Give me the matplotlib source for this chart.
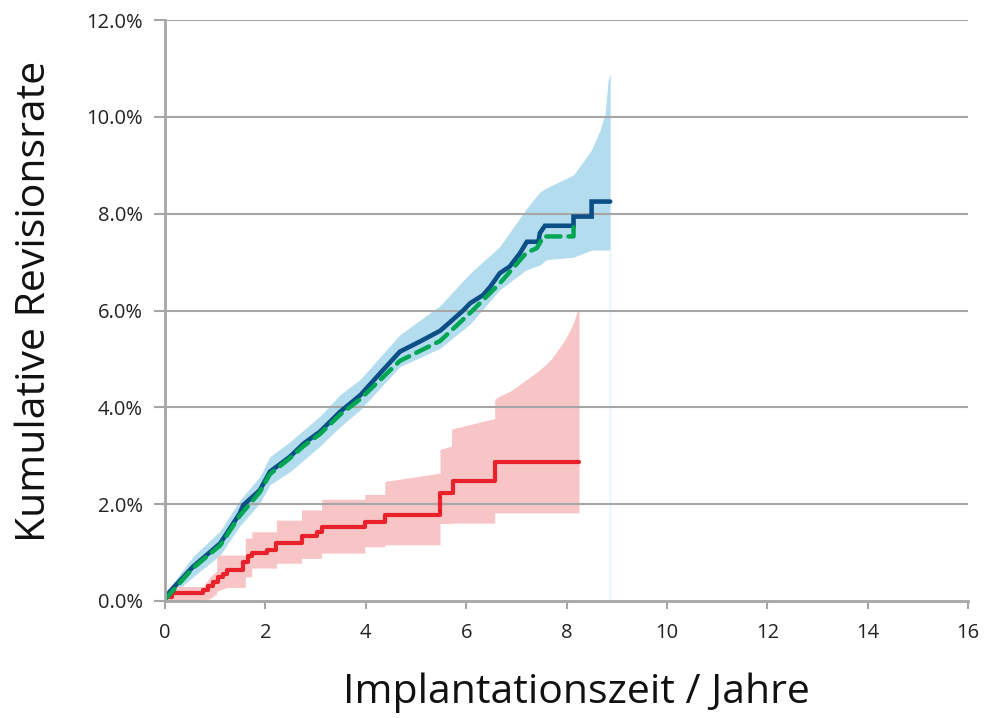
import matplotlib
matplotlib.use("Agg")
import matplotlib.pyplot as plt

plt.rcParams['font.family'] = ['Open Sans', 'DejaVu Sans']

# ---- data (years, cumulative revision rate in %) ----
blue_t = [0, 0.1, 0.56, 1.1, 1.49, 1.56, 1.89, 2.09, 2.49, 2.76, 3.09, 3.49, 3.89, 4.3, 4.68,
          5.1, 5.48, 5.68, 5.94, 6.08, 6.34, 6.48, 6.67, 6.87, 7.07, 7.21, 7.44, 7.47, 7.57,
          8.14, 8.14, 8.5, 8.5, 8.87]
blue_v = [0.05, 0.2, 0.71, 1.19, 1.81, 1.98, 2.29, 2.67, 2.98, 3.25, 3.5, 3.91, 4.25, 4.72, 5.15,
          5.37, 5.58, 5.76, 6.0, 6.15, 6.32, 6.49, 6.77, 6.91, 7.18, 7.42, 7.42, 7.6, 7.75,
          7.75, 7.94, 7.94, 8.25, 8.25]

green_t = [0, 0.56, 1.1, 1.49, 1.89, 2.09, 2.49, 2.76, 3.09, 3.49, 3.89, 4.68, 5.48, 6.08,
           6.67, 7.2, 7.41, 7.54, 8.14, 8.14, 8.27]
green_v = [0.03, 0.68, 1.15, 1.76, 2.25, 2.62, 2.95, 3.2, 3.45, 3.85, 4.17, 4.96, 5.37, 5.95,
           6.56, 7.19, 7.29, 7.53, 7.53, 7.73, 7.73]

blue_band_t = [0, 0.56, 1.1, 1.49, 1.89, 2.09, 2.49, 3.09, 3.49, 3.89, 4.68, 5.48, 6.08,
               6.67, 7.2, 7.47, 7.6, 8.14, 8.5, 8.67, 8.77, 8.83, 8.87]
blue_band_hi = [0.15, 0.92, 1.45, 2.08, 2.57, 2.98, 3.29, 3.82, 4.26, 4.58, 5.5, 6.1, 6.77,
                7.32, 8.1, 8.45, 8.53, 8.8, 9.32, 9.73, 10.07, 10.76, 10.9]
blue_band_lo = [0.0, 0.5, 0.95, 1.55, 2.02, 2.4, 2.67, 3.2, 3.6, 3.95, 4.84, 5.22, 5.72,
                6.43, 6.84, 6.94, 7.05, 7.1, 7.25, 7.25, 7.25, 7.25, 7.25]

red_t = [0, 0.14, 0.76, 0.86, 0.96, 1.06, 1.16, 1.23, 1.56, 1.66, 1.73, 2.03, 2.22, 2.72,
         3.03, 3.12, 3.98, 4.38, 5.48, 5.73, 6.57, 8.25]
red_v = [0.08, 0.16, 0.22, 0.3, 0.4, 0.5, 0.56, 0.64, 0.8, 0.92, 0.99, 1.05, 1.19, 1.34,
         1.43, 1.52, 1.64, 1.78, 2.23, 2.48, 2.87, 2.87]

red_band_t = [0, 0.14, 0.14, 0.76, 0.9, 1.03, 1.03, 1.23, 1.6, 1.6, 1.73, 1.73, 2.22, 2.22,
              2.72, 2.72, 3.12, 3.12, 3.98, 3.98, 4.38, 4.38, 5.48, 5.48, 5.71, 5.71, 6.57,
              6.57, 6.7, 6.87, 7.0, 7.2, 7.4, 7.54, 7.7, 7.87, 7.97, 8.07, 8.14, 8.2, 8.25]
red_band_hi = [0.12, 0.12, 0.3, 0.3, 0.5, 0.62, 0.95, 0.95, 0.95, 1.3, 1.3, 1.43, 1.43, 1.67,
               1.67, 1.88, 1.88, 2.1, 2.1, 2.2, 2.2, 2.47, 2.64, 3.13, 3.2, 3.55, 3.77,
               4.17, 4.25, 4.33, 4.42, 4.57, 4.72, 4.84, 5.0, 5.25, 5.4, 5.6, 5.75, 5.94, 6.05]
red_band_lo = [0.0, 0.0, 0.0, 0.0, 0.05, 0.15, 0.2, 0.28, 0.28, 0.5, 0.5, 0.68, 0.68, 0.78,
               0.78, 0.88, 0.88, 0.99, 0.99, 1.12, 1.12, 1.16, 1.16, 1.6, 1.6, 1.61, 1.61,
               1.82, 1.82, 1.82, 1.82, 1.82, 1.82, 1.82, 1.82, 1.82, 1.82, 1.82, 1.82, 1.82, 1.82]

x_ticks = [0, 2, 4, 6, 8, 10, 12, 14, 16]
y_ticks = [0, 2, 4, 6, 8, 10, 12]
x_label = "Implantationszeit / Jahre"
y_label = "Kumulative Revisionsrate"

# ---- figure ----
fig = plt.figure(figsize=(9.84, 7.18), dpi=100)
ax = fig.add_axes([165/984, 1-601/718, (968-165)/984, (601-20)/718])

grid_c = '#a6a6a6'
for yv in y_ticks[1:]:
    ax.axhline(yv, color=grid_c, lw=1.5, zorder=3)

ax.fill_between(blue_band_t, blue_band_lo, blue_band_hi, color='#b4dcef', lw=0, zorder=2)
ax.plot([blue_band_t[-1], blue_band_t[-1]], [0, blue_band_lo[-1]], color='#e3f1f9', lw=1, zorder=2)
ax.fill_between(red_band_t, red_band_lo, red_band_hi, color='#f7c5c5', lw=0, zorder=2)

ax.plot(red_t, red_v, drawstyle='steps-post', color='#e8212b', lw=3, zorder=4,
        solid_capstyle='round')
ax.plot(blue_t, blue_v, color='#0b4f86', lw=3.3, zorder=4, solid_capstyle='round',
        solid_joinstyle='miter')
ax.plot(green_t, green_v, color='#00a651', lw=3.2, ls=(0, (3.2, 1.8)), zorder=5,
        dash_capstyle='round')

ax.set_xlim(0, 16)
ax.set_ylim(0, 12)
ax.set_xticks(x_ticks)
ax.set_yticks(y_ticks)
ax.set_xticklabels([str(v) for v in x_ticks])
ax.set_yticklabels([f"{v:.1f}%" for v in y_ticks])

for s in ['top', 'right']:
    ax.spines[s].set_visible(False)
for s in ['left', 'bottom']:
    ax.spines[s].set_color(grid_c)
    ax.spines[s].set_linewidth(2)
    ax.spines[s].set_zorder(6)

ax.tick_params(axis='y', length=8, width=1.5, color=grid_c, labelsize=14.5,
               labelcolor='#222222', pad=8)
ax.tick_params(axis='x', length=6, width=1.5, color=grid_c, labelsize=14.5,
               labelcolor='#222222', pad=10)

fig.text(576/984, 1-693/718, x_label, ha='center', va='center', fontsize=29.5, color='#111111')
fig.text(35/984, 1-301/718, y_label, ha='center', va='center', rotation=90,
         fontsize=29.5, color='#111111')

fig.savefig('out.png', dpi=100)
